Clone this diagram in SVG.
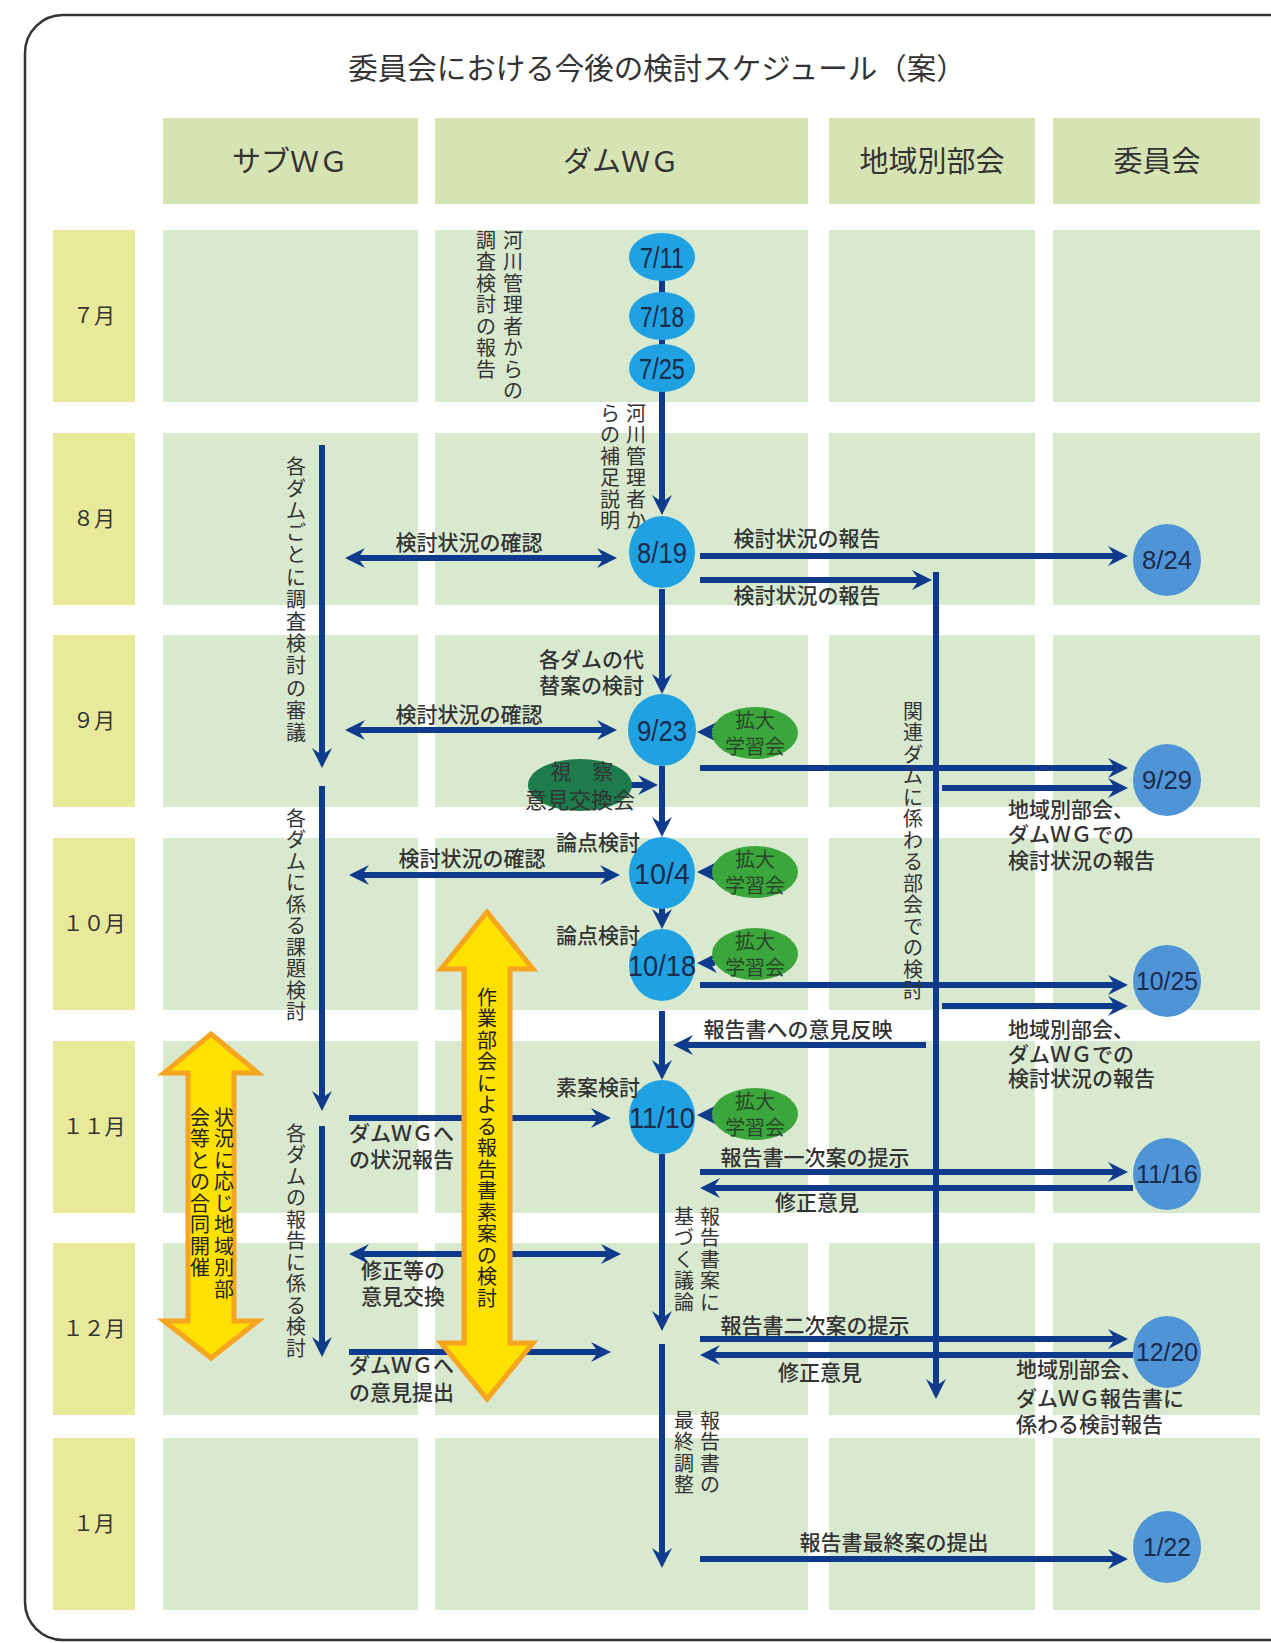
<svg xmlns="http://www.w3.org/2000/svg" width="1271" height="1643" viewBox="0 0 1271 1643">
<defs>
<style>
.t{font-family:"Noto Sans CJK JP","Noto Sans",sans-serif;fill:#333;}
.ti{font-size:29.5px;text-anchor:middle;}
.hd{font-size:29px;text-anchor:middle;}
.mo{font-size:21px;text-anchor:middle;}
.lb{font-size:21px;font-weight:500;}
.lm{text-anchor:middle;}
.le{text-anchor:end;}
.vt{font-size:20px;text-anchor:middle;}
.dt{font-family:"Liberation Sans Narrow","Liberation Sans",Arial,sans-serif;fill:#1b2b4b;text-anchor:middle;}
.d1{font-size:30px;}
.d2{font-size:26px;}
.cell{fill:#d9e9cf;}
.hdr{fill:#d6e3b3;}
.mon{fill:#e9e99c;}
.ln{stroke:#103b8c;stroke-width:6;fill:none;}
.a1{marker-end:url(#ah);}
.a2{marker-start:url(#ah);marker-end:url(#ah);}
.dw{fill:#20a2e2;}
.cm{fill:#4f94d6;}
.gr{fill:#3ba63b;}
.gt{font-family:"Noto Sans CJK JP",sans-serif;font-size:20px;fill:#2a462a;text-anchor:middle;}
.ya{fill:#ffe100;stroke:#f5a51f;stroke-width:5;}
</style>
<marker id="ah" viewBox="0 0 20 20" markerWidth="20" markerHeight="20" markerUnits="userSpaceOnUse" refX="8" refY="10" orient="auto-start-reverse">
<path d="M0,0 L20,10 L0,20 L7,10 Z" fill="#103b8c"/>
</marker>
</defs>
<rect x="0" y="0" width="1271" height="1643" fill="#fff"/>
<rect x="25" y="15" width="1290" height="1625" rx="38" fill="none" stroke="#333" stroke-width="2.5"/>
<text class="t ti" x="657" y="79">委員会における今後の検討スケジュール（案）</text>

<g id="grid">
<g id="headers">
<rect class="hdr" x="163" y="118" width="255" height="86"/>
<rect class="hdr" x="435" y="118" width="373" height="86"/>
<rect class="hdr" x="829" y="118" width="206" height="86"/>
<rect class="hdr" x="1053" y="118" width="207" height="86"/>
<text class="t hd" x="290" y="172">サブＷＧ</text>
<text class="t hd" x="621" y="172">ダムＷＧ</text>
<text class="t hd" x="932" y="172">地域別部会</text>
<text class="t hd" x="1157" y="172">委員会</text>
</g>
<g id="rows">
<rect class="mon" x="53" y="230" width="82" height="172"/><rect class="cell" x="163" y="230" width="255" height="172"/><rect class="cell" x="435" y="230" width="373" height="172"/><rect class="cell" x="829" y="230" width="206" height="172"/><rect class="cell" x="1053" y="230" width="207" height="172"/>
<rect class="mon" x="53" y="433" width="82" height="172"/><rect class="cell" x="163" y="433" width="255" height="172"/><rect class="cell" x="435" y="433" width="373" height="172"/><rect class="cell" x="829" y="433" width="206" height="172"/><rect class="cell" x="1053" y="433" width="207" height="172"/>
<rect class="mon" x="53" y="635" width="82" height="172"/><rect class="cell" x="163" y="635" width="255" height="172"/><rect class="cell" x="435" y="635" width="373" height="172"/><rect class="cell" x="829" y="635" width="206" height="172"/><rect class="cell" x="1053" y="635" width="207" height="172"/>
<rect class="mon" x="53" y="838" width="82" height="172"/><rect class="cell" x="163" y="838" width="255" height="172"/><rect class="cell" x="435" y="838" width="373" height="172"/><rect class="cell" x="829" y="838" width="206" height="172"/><rect class="cell" x="1053" y="838" width="207" height="172"/>
<rect class="mon" x="53" y="1041" width="82" height="172"/><rect class="cell" x="163" y="1041" width="255" height="172"/><rect class="cell" x="435" y="1041" width="373" height="172"/><rect class="cell" x="829" y="1041" width="206" height="172"/><rect class="cell" x="1053" y="1041" width="207" height="172"/>
<rect class="mon" x="53" y="1243" width="82" height="172"/><rect class="cell" x="163" y="1243" width="255" height="172"/><rect class="cell" x="435" y="1243" width="373" height="172"/><rect class="cell" x="829" y="1243" width="206" height="172"/><rect class="cell" x="1053" y="1243" width="207" height="172"/>
<rect class="mon" x="53" y="1438" width="82" height="172"/><rect class="cell" x="163" y="1438" width="255" height="172"/><rect class="cell" x="435" y="1438" width="373" height="172"/><rect class="cell" x="829" y="1438" width="206" height="172"/><rect class="cell" x="1053" y="1438" width="207" height="172"/>
<text class="t mo" x="94" y="323">７月</text>
<text class="t mo" x="94" y="526">８月</text>
<text class="t mo" x="94" y="728">９月</text>
<text class="t mo" x="94" y="931">１０月</text>
<text class="t mo" x="94" y="1134">１１月</text>
<text class="t mo" x="94" y="1336">１２月</text>
<text class="t mo" x="94" y="1531">１月</text>
</g>
</g>

<g id="connectors">
<line class="ln a1" x1="662" y1="257" x2="662" y2="503"/>
<line class="ln a1" x1="662" y1="589" x2="662" y2="682"/>
<line class="ln a1" x1="662" y1="766" x2="662" y2="825"/>
<line class="ln a1" x1="662" y1="908" x2="662" y2="917"/>
<line class="ln a1" x1="662" y1="1011" x2="662" y2="1068"/>
<line class="ln a1" x1="662" y1="1154" x2="662" y2="1319"/>
<line class="ln a1" x1="662" y1="1344" x2="662" y2="1556"/>
<line class="ln a1" x1="322" y1="445" x2="322" y2="756"/>
<line class="ln a1" x1="322" y1="786" x2="322" y2="1099"/>
<line class="ln a1" x1="322" y1="1126" x2="322" y2="1345"/>
<line class="ln a1" x1="936" y1="572" x2="936" y2="1387"/>
<line class="ln a1" x1="700" y1="556" x2="1116" y2="556"/>
<line class="ln a1" x1="700" y1="580" x2="920" y2="580"/>
<line class="ln a1" x1="700" y1="768" x2="1116" y2="768"/>
<line class="ln a1" x1="942" y1="788" x2="1116" y2="788"/>
<line class="ln a1" x1="700" y1="985" x2="1116" y2="985"/>
<line class="ln a1" x1="942" y1="1006" x2="1116" y2="1006"/>
<line class="ln a1" x1="700" y1="1172" x2="1116" y2="1172"/>
<line class="ln a1" x1="700" y1="1339" x2="1116" y2="1339"/>
<line class="ln a1" x1="700" y1="1559" x2="1116" y2="1559"/>
<line class="ln a1" x1="926" y1="1045" x2="685" y2="1045"/>
<line class="ln a1" x1="1133" y1="1188" x2="712" y2="1188"/>
<line class="ln a1" x1="1133" y1="1355" x2="712" y2="1355"/>
<line class="ln a2" x1="357" y1="558" x2="605" y2="558"/>
<line class="ln a2" x1="357" y1="730" x2="605" y2="730"/>
<line class="ln a2" x1="361" y1="875" x2="608" y2="875"/>
<line class="ln a2" x1="361" y1="1254" x2="609" y2="1254"/>
<line class="ln a1" x1="349" y1="1118" x2="599" y2="1118"/>
<line class="ln a1" x1="349" y1="1352" x2="599" y2="1352"/>
<line class="ln a1" x1="630" y1="785" x2="646" y2="785"/>
<line class="ln a1" x1="715" y1="732" x2="709" y2="732"/>
<line class="ln a1" x1="715" y1="872" x2="709" y2="872"/>
<line class="ln a1" x1="715" y1="963" x2="709" y2="963"/>
<line class="ln a1" x1="715" y1="1115" x2="709" y2="1115"/>
</g>

<g id="dam-wg-meetings">
<g id="d0711"><ellipse class="dw" cx="662" cy="257" rx="33" ry="24"/><text class="dt d1" x="662" y="268" textLength="44" lengthAdjust="spacingAndGlyphs">7/11</text></g>
<g id="d0718"><ellipse class="dw" cx="662" cy="316" rx="33" ry="24"/><text class="dt d1" x="662" y="327" textLength="44" lengthAdjust="spacingAndGlyphs">7/18</text></g>
<g id="d0725"><ellipse class="dw" cx="662" cy="368" rx="33" ry="24"/><text class="dt d1" x="662" y="379" textLength="46" lengthAdjust="spacingAndGlyphs">7/25</text></g>
<g id="d0819"><ellipse class="dw" cx="662" cy="552" rx="33" ry="36"/><text class="dt d1" x="662" y="563" textLength="50" lengthAdjust="spacingAndGlyphs">8/19</text></g>
<g id="d0923"><ellipse class="dw" cx="662" cy="730" rx="34" ry="36"/><text class="dt d1" x="662" y="741" textLength="50" lengthAdjust="spacingAndGlyphs">9/23</text></g>
<g id="d1004"><ellipse class="dw" cx="662" cy="873" rx="33" ry="36"/><text class="dt d1" x="662" y="884" textLength="56" lengthAdjust="spacingAndGlyphs">10/4</text></g>
<g id="d1018"><ellipse class="dw" cx="662" cy="965" rx="33" ry="36"/><text class="dt d1" x="662" y="976" textLength="68" lengthAdjust="spacingAndGlyphs">10/18</text></g>
<g id="d1110"><ellipse class="dw" cx="662" cy="1117" rx="33" ry="37"/><text class="dt d1" x="662" y="1128" textLength="66" lengthAdjust="spacingAndGlyphs">11/10</text></g>
</g>

<g id="committee-meetings">
<g id="c0824"><ellipse class="cm" cx="1167" cy="560" rx="34" ry="36"/><text class="dt d2" x="1167" y="569" textLength="50" lengthAdjust="spacingAndGlyphs">8/24</text></g>
<g id="c0929"><ellipse class="cm" cx="1167" cy="780" rx="34" ry="36"/><text class="dt d2" x="1167" y="789" textLength="50" lengthAdjust="spacingAndGlyphs">9/29</text></g>
<g id="c1025"><ellipse class="cm" cx="1167" cy="981" rx="34" ry="36"/><text class="dt d2" x="1167" y="990" textLength="62" lengthAdjust="spacingAndGlyphs">10/25</text></g>
<g id="c1116"><ellipse class="cm" cx="1167" cy="1174" rx="34" ry="36"/><text class="dt d2" x="1167" y="1183" textLength="62" lengthAdjust="spacingAndGlyphs">11/16</text></g>
<g id="c1220"><ellipse class="cm" cx="1167" cy="1352" rx="34" ry="36"/><text class="dt d2" x="1167" y="1361" textLength="62" lengthAdjust="spacingAndGlyphs">12/20</text></g>
<g id="c0122"><ellipse class="cm" cx="1167" cy="1547" rx="34" ry="36"/><text class="dt d2" x="1167" y="1556" textLength="48" lengthAdjust="spacingAndGlyphs">1/22</text></g>
</g>

<g id="study-sessions">
<g id="g1"><ellipse class="gr" cx="755" cy="733" rx="43" ry="26"/><text class="gt" x="755" y="728">拡大<tspan x="755" dy="26">学習会</tspan></text></g>
<g id="g2"><ellipse class="gr" cx="755" cy="872" rx="43" ry="26"/><text class="gt" x="755" y="867">拡大<tspan x="755" dy="26">学習会</tspan></text></g>
<g id="g3"><ellipse class="gr" cx="755" cy="954" rx="43" ry="26"/><text class="gt" x="755" y="949">拡大<tspan x="755" dy="26">学習会</tspan></text></g>
<g id="g4"><ellipse class="gr" cx="755" cy="1114" rx="43" ry="26"/><text class="gt" x="755" y="1109">拡大<tspan x="755" dy="26">学習会</tspan></text></g>
</g>

<g id="site-visit"><ellipse cx="580" cy="785" rx="52" ry="26" fill="#1d7b4c"/><text class="t lm" x="582" y="779" style="font-size:21px">視　察<tspan x="580" dy="29" style="font-size:22px">意見交換会</tspan></text></g>

<g id="work-group-arrow"><polygon class="ya" points="487,912 533,969 510,969 510,1343 533,1343 487,1399 441,1343 464,1343 464,969 441,969"/><text class="t vt" style="fill:#222" x="487 487 487 487 487 487 487 487 487 487 487 487 487 487 487" y="1004.5 1026 1047.5 1069 1090.5 1112 1133.5 1155 1176.5 1198 1219.5 1241 1262.5 1284 1305.5">作業部会による報告書素案の検討</text></g>
<g id="joint-arrow"><polygon class="ya" points="211,1034 258,1073 234,1073 234,1321 258,1321 211,1358 164,1321 188,1321 188,1073 164,1073"/><text class="t vt" style="fill:#222" x="224 224 224 224 224 224 224 224 224" y="1124.5 1146 1167.5 1189 1210.5 1232 1253.5 1275 1296.5">状況に応じ地域別部</text><text class="t vt" style="fill:#222" x="200 200 200 200 200 200 200 200" y="1124.5 1146 1167.5 1189 1210.5 1232 1253.5 1275">会等との合同開催</text></g>

<g id="vertical-labels">
<text class="t vt" x="513 513 513 513 513 513 513 513" y="247.5 269 290.5 312 333.5 355 376.5 398">河川管理者からの</text>
<text class="t vt" x="486 486 486 486 486 486 486" y="247.5 269 290.5 312 333.5 355 376.5">調査検討の報告</text>
<text class="t vt" x="636 636 636 636 636 636" y="420.5 442 463.5 485 506.5 528">河川管理者か</text>
<text class="t vt" x="610 610 610 610 610 610" y="420.5 442 463.5 485 506.5 528">らの補足説明</text>
<text class="t vt" x="296 296 296 296 296 296 296 296 296 296 296 296 296" y="473.5 495.7 517.9 540.1 562.3 584.5 606.7 628.9 651.1 673.3 695.5 717.7 739.9">各ダムごとに調査検討の審議</text>
<text class="t vt" x="296 296 296 296 296 296 296 296 296 296" y="825.5 847 868.5 890 911.5 933 954.5 976 997.5 1019">各ダムに係る課題検討</text>
<text class="t vt" x="296 296 296 296 296 296 296 296 296 296 296" y="1140.5 1162 1183.5 1205 1226.5 1248 1269.5 1291 1312.5 1334 1355.5">各ダムの報告に係る検討</text>
<text class="t vt" x="913 913 913 913 913 913 913 913 913 913 913 913 913 913" y="718.5 740 761.5 783 804.5 826 847.5 869 890.5 912 933.5 955 976.5 998">関連ダムに係わる部会での検討</text>
<text class="t vt" x="710 710 710 710 710" y="1223.5 1245 1266.5 1288 1309.5">報告書案に</text>
<text class="t vt" x="684 684 684 684 684" y="1223.5 1245 1266.5 1288 1309.5">基づく議論</text>
<text class="t vt" x="710 710 710 710" y="1427.5 1449 1470.5 1492">報告書の</text>
<text class="t vt" x="684 684 684 684" y="1427.5 1449 1470.5 1492">最終調整</text>
</g>

<g id="labels">
<text class="t lb lm" x="469" y="550">検討状況の確認</text>
<text class="t lb lm" x="469" y="722">検討状況の確認</text>
<text class="t lb lm" x="472" y="866">検討状況の確認</text>
<text class="t lb le" x="644" y="667">各ダムの代<tspan x="644" dy="26">替案の検討</tspan></text>
<text class="t lb le" x="640" y="850">論点検討</text>
<text class="t lb le" x="640" y="943">論点検討</text>
<text class="t lb le" x="640" y="1095">素案検討</text>
<text class="t lb lm" x="807" y="546">検討状況の報告</text>
<text class="t lb lm" x="807" y="603">検討状況の報告</text>
<text class="t lb" x="1008" y="817">地域別部会、<tspan x="1008" dy="25">ダムＷＧでの</tspan><tspan x="1008" dy="26">検討状況の報告</tspan></text>
<text class="t lb" x="1008" y="1037">地域別部会、<tspan x="1008" dy="25">ダムＷＧでの</tspan><tspan x="1008" dy="24">検討状況の報告</tspan></text>
<text class="t lb lm" x="798" y="1037">報告書への意見反映</text>
<text class="t lb lm" x="815" y="1165">報告書一次案の提示</text>
<text class="t lb lm" x="817" y="1210">修正意見</text>
<text class="t lb lm" x="815" y="1333">報告書二次案の提示</text>
<text class="t lb lm" x="820" y="1380">修正意見</text>
<text class="t lb" x="1016" y="1377">地域別部会、<tspan x="1016" dy="29">ダムＷＧ報告書に</tspan><tspan x="1016" dy="26">係わる検討報告</tspan></text>
<text class="t lb lm" x="894" y="1550">報告書最終案の提出</text>
<text class="t lb" x="349" y="1141">ダムＷＧへ<tspan x="349" dy="26">の状況報告</tspan></text>
<text class="t lb" x="361" y="1278">修正等の<tspan x="361" dy="26">意見交換</tspan></text>
<text class="t lb" x="349" y="1373">ダムＷＧへ<tspan x="349" dy="27">の意見提出</tspan></text>
</g>
</svg>
